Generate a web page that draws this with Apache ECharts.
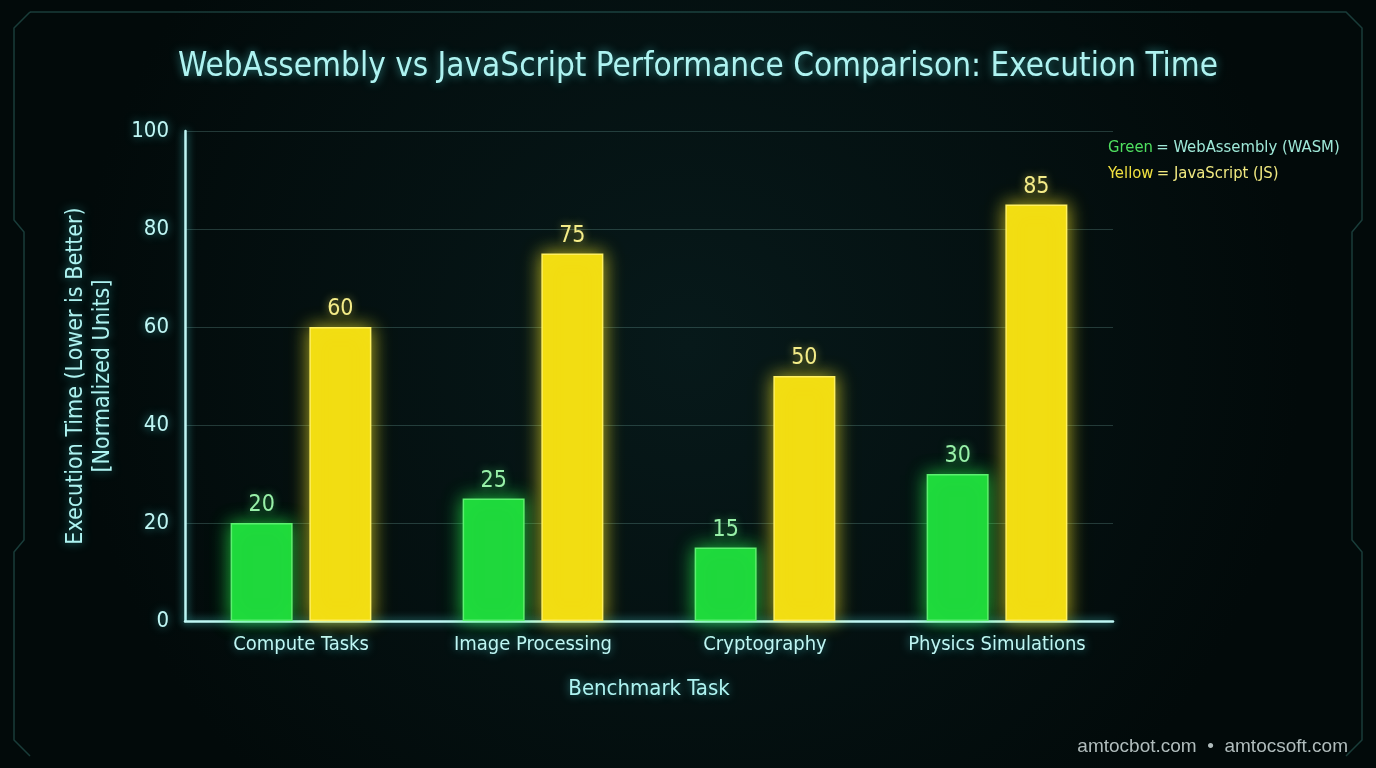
<!DOCTYPE html>
<html><head><meta charset="utf-8">
<script src="https://cdn.jsdelivr.net/npm/echarts@6/dist/echarts.min.js"></script>
<style>html,body{margin:0;padding:0;background:#041010;}#c{width:1376px;height:768px;}</style>
</head><body><div id="c"></div>
<script>
const categories = ['Compute Tasks', 'Image Processing', 'Cryptography', 'Physics Simulations'];
const wasmValues = [20, 25, 15, 30];
const jsValues = [60, 75, 50, 85];
const yTicks = [0, 20, 40, 60, 80, 100];

const FONT = '"DejaVu Sans Condensed","Roboto",sans-serif';
const chart = echarts.init(document.getElementById('c'));
const glowCyan = {textShadowColor: 'rgba(80,230,230,0.6)', textShadowBlur: 10};

chart.setOption({
  backgroundColor: {
    type: 'radial', x: 0.5, y: 0.45, r: 0.8,
    colorStops: [{offset: 0, color: '#07191a'}, {offset: 1, color: '#020a0a'}]
  },
  title: {
    text: 'WebAssembly vs JavaScript Performance Comparison: Execution Time',
    left: 693, top: 46, textAlign: 'center',
    textStyle: Object.assign({color: '#aef3f1', fontSize: 33, fontWeight: 'normal', fontFamily: FONT}, glowCyan)
  },
  grid: {left: 185, right: 263, top: 131, bottom: 147, containLabel: false},
  xAxis: {
    type: 'category', data: categories,
    name: 'Benchmark Task', nameLocation: 'middle', nameGap: 57,
    nameTextStyle: Object.assign({color: '#aef3f1', fontSize: 22, fontFamily: FONT}, glowCyan),
    axisLine: {lineStyle: {color: '#bff6f4', width: 2.5, shadowColor: 'rgba(80,230,230,0.8)', shadowBlur: 8}},
    axisTick: {show: false},
    axisLabel: Object.assign({color: '#bff6f4', fontSize: 20, fontFamily: FONT, margin: 14, interval: 0}, glowCyan)
  },
  yAxis: {
    type: 'value', min: yTicks[0], max: yTicks[yTicks.length - 1], interval: 20,
    name: 'Execution Time (Lower is Better)\n[Normalized Units]',
    nameLocation: 'middle', nameGap: 68, nameRotate: 90,
    nameTextStyle: Object.assign({color: '#aef3f1', fontSize: 23, fontFamily: FONT, lineHeight: 27}, glowCyan),
    axisLine: {show: true, lineStyle: {color: '#bff6f4', width: 2.5, shadowColor: 'rgba(80,230,230,0.8)', shadowBlur: 8}},
    axisTick: {show: false},
    splitLine: {lineStyle: {color: 'rgba(150,220,210,0.22)', width: 1}},
    axisLabel: Object.assign({color: '#bff6f4', fontSize: 22, fontFamily: FONT, margin: 16}, glowCyan)
  },
  series: [
    {
      name: 'WebAssembly (WASM)', type: 'bar', data: wasmValues,
      barWidth: 62, barGap: '27%',
      itemStyle: {color: '#1fd83c', borderColor: '#5cf070', borderWidth: 1.5, shadowColor: 'rgba(40,255,80,0.7)', shadowBlur: 18},
      label: {show: true, position: 'top', distance: 6, color: '#98f0a8', fontSize: 23, fontFamily: FONT,
        textShadowColor: 'rgba(80,255,120,0.6)', textShadowBlur: 8}
    },
    {
      name: 'JavaScript (JS)', type: 'bar', data: jsValues,
      barWidth: 62,
      itemStyle: {color: '#f2dd12', borderColor: '#fff060', borderWidth: 1.5, shadowColor: 'rgba(255,240,40,0.7)', shadowBlur: 18},
      label: {show: true, position: 'top', distance: 6, color: '#f4ec88', fontSize: 23, fontFamily: FONT,
        textShadowColor: 'rgba(255,240,80,0.6)', textShadowBlur: 8}
    }
  ],
  graphic: [
    {type: 'text', left: 1108, top: 139, style: {
      text: '{g|Green} {w|= WebAssembly (WASM)}',
      rich: {g: {fill: '#4fe060', fontSize: 16.5, fontFamily: FONT}, w: {fill: '#9fe8d8', fontSize: 16.5, fontFamily: FONT}}}},
    {type: 'text', left: 1108, top: 165, style: {
      text: '{y|Yellow} {w|= JavaScript (JS)}',
      rich: {y: {fill: '#f0e040', fontSize: 16.5, fontFamily: FONT}, w: {fill: '#f0e880', fontSize: 16.5, fontFamily: FONT}}}},
    {type: 'text', right: 28, top: 737, style: {
      text: 'amtocbot.com  •  amtocsoft.com', fill: '#b0bcbc', fontSize: 19, fontFamily: '"Liberation Sans",Arial,sans-serif'}},
    {type: 'polyline', silent: true, z: -1, shape: {points: [[30, 12], [1346, 12], [1362, 28], [1362, 220], [1352, 232], [1352, 540], [1362, 552], [1362, 740], [1346, 756]]},
      style: {stroke: 'rgba(80,180,170,0.3)', lineWidth: 1.5, fill: null}},
    {type: 'polyline', silent: true, z: -1, shape: {points: [[30, 12], [14, 28], [14, 220], [24, 232], [24, 540], [14, 552], [14, 740], [30, 756]]},
      style: {stroke: 'rgba(80,180,170,0.3)', lineWidth: 1.5, fill: null}}
  ]
});
</script></body></html>
